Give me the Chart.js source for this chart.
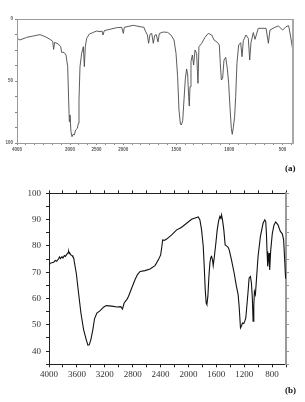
<!DOCTYPE html>
<html>
<head>
<meta charset="utf-8">
<script src="https://cdn.jsdelivr.net/npm/chart.js@4.4.1/dist/chart.umd.min.js"></script>
<style>
  html,body{margin:0;padding:0;background:#fff;}
  body{width:305px;height:402px;position:relative;overflow:hidden;}
  #ca{position:absolute;left:0;top:0;}
  #cb{position:absolute;left:0;top:160px;}
  .lab{position:absolute;font-family:"Liberation Serif",serif;font-weight:bold;font-size:9px;color:#111;}
</style>
</head>
<body>
<canvas id="ca" width="305" height="160"></canvas>
<canvas id="cb" width="305" height="242"></canvas>
<div class="lab" style="left:285px;top:163px;">(a)</div>
<div class="lab" style="left:285px;top:385px;">(b)</div>
<script>
// ---------- Chart (a) data ----------
const wnA = [4000,3943,3818,3692,3567,3472,3378,3328,3310,3291,3221,3177,3159,3115,3077,3045,3027,3014,3002,2983,2964,2945,2920,2895,2863,2844,2832,2813,2782,2750,2731,2713,2687,2637,2562,2499,2436,2399,2380,2355,2248,2122,2028,1998,1989,1904,1841,1804,1788,1772,1760,1747,1731,1716,1703,1688,1672,1659,1622,1581,1550,1521,1502,1487,1474,1461,1452,1439,1427,1414,1402,1392,1383,1377,1370,1361,1348,1336,1323,1308,1295,1286,1260,1229,1198,1166,1144,1113,1094,1085,1075,1063,1050,1034,1019,1006,994,981,972,962,950,940,928,912,893,880,868,843,821,808,796,774,758,727,654,632,617,570,538,497,466,441,425,403];
const absA = [15.6,16.9,14.8,13.7,12.6,14.2,16.4,18,24.5,18.8,20.2,22.3,26.9,26.9,29,38.4,65.3,82.8,77.4,90.9,94.9,93,93.5,89.5,88.2,84.1,65.3,38.4,27.7,22.3,38.4,22.3,15.6,12.1,10.8,9.7,10.2,9.7,12.9,9.4,8.3,7,6.7,11.6,6.7,5.1,6.2,6.7,10.2,12.9,19.6,12.4,11.6,19.6,13.2,12.6,18.5,11.6,10.5,10.8,12.9,16.9,27.7,46.5,73.4,84.7,85.5,82,65.3,47.8,40.3,45.2,62.6,70.2,54.6,34.4,29,37.1,25,27.7,51.9,22.3,19.6,14.8,11.6,12.9,16.9,18.8,21,35.8,49.2,47.8,33.1,30.9,39.8,51.9,70.7,88.2,93,87.4,78.8,62.6,35.8,21,19.1,30.4,17.5,12.9,15.6,33.1,19.1,11,16.4,7.5,7.5,19.6,8.9,6.7,5.6,8.9,6.2,5.4,12.9,24.5];
const xLabelsA = [4000,3000,2500,2000,1500,1000,500];
const yLabelsA = [0,50,100];

// ---------- Chart (b) data ----------
const wnB = [4000,3990,3960,3933,3910,3890,3862,3850,3835,3814,3800,3780,3766,3742,3725,3719,3710,3700,3685,3670,3657,3645,3638,3609,3576,3542,3504,3466,3442,3423,3399,3371,3347,3313,3266,3218,3180,3099,3027,2970,2946,2922,2884,2860,2813,2765,2731,2693,2622,2550,2479,2431,2398,2383,2369,2345,2312,2240,2169,2121,2083,2026,1954,1883,1859,1835,1811,1787,1773,1759,1745,1735,1721,1706,1692,1678,1668,1654,1644,1630,1606,1587,1568,1549,1535,1525,1511,1492,1473,1454,1430,1415,1382,1344,1311,1287,1272,1253,1239,1225,1206,1191,1177,1158,1144,1129,1110,1096,1082,1072,1062,1053,1039,1024,1001,967,929,905,891,881,872,862,853,843,834,819,796,772,748,715,681,653,634,619,610,604];
const trB = [73.1,73.3,73.6,73.8,74.5,74.2,75.1,75.8,75.2,75.9,75.4,76.3,76.0,76.9,77.5,77.9,77.0,77.2,76.5,76.4,75.8,75.4,74.1,69.7,62.1,54.5,48.2,44.4,42.3,42.4,44.4,48.2,52.3,54.5,55.4,56.7,57.3,57.1,56.8,56.9,56.0,58.3,59.6,60.8,64.0,67.2,69.1,70.3,70.6,71.2,72.5,74.7,76.6,79.4,82.3,82.1,82.6,84.2,86.1,86.7,87.4,88.6,90.1,90.8,91.0,89.9,86.1,79.8,72.2,63.4,58.3,57.7,60.8,68.4,73.5,75.7,76.0,74.7,72.5,75.4,81.1,86.1,89.3,91.2,90.5,91.8,89.9,86.1,80.4,80.0,79.5,78.5,74.7,69.7,64.6,61.5,57.0,48.8,49.5,50.7,50.5,51.4,52.6,58.3,62.7,67.8,68.4,65.9,59.6,51.4,57.0,62.7,61.5,67.2,76.0,83.6,88.6,89.9,89.3,84.8,77.9,72.2,74.7,77.3,70.9,78.5,84.8,88.0,89.1,88.0,85.5,84.6,82.3,74.7,69.7,67.5];
const xLabelsB = [4000,3600,3200,2800,2400,2000,1600,1200,800];
const yLabelsB = [40,50,60,70,80,90,100];

// ---------- chart (a): x axis with 2x expansion below 2000 cm-1 ----------
function posA(w){ return w >= 2000 ? 4000 - w : 2000 + (2000 - w) * 2; }
const labelPosA = xLabelsA.map(posA);

const framePlugin = {
  id: 'frameA',
  afterDatasetsDraw(chart){
    const a = chart.chartArea, ctx = chart.ctx;
    ctx.save();
    ctx.strokeStyle = '#9a9a9a';
    ctx.lineWidth = 1;
    ctx.beginPath();
    ctx.moveTo(a.left + 0.5, a.top + 0.5);
    ctx.lineTo(a.right, a.top + 0.5);
    ctx.moveTo(a.left + 0.5, a.top);
    ctx.lineTo(a.left + 0.5, a.bottom + 0.5);
    ctx.lineTo(a.right, a.bottom + 0.5);
    ctx.stroke();
    ctx.lineWidth = 2;
    ctx.strokeStyle = '#a8a8a8';
    ctx.beginPath();
    ctx.moveTo(a.right, a.top);
    ctx.lineTo(a.right, a.bottom + 1);
    ctx.stroke();
    ctx.restore();
  }
};

const smallFont = {family: '"Liberation Sans", Arial, sans-serif', size: 4.5, weight: 'bold'};

new Chart(document.getElementById('ca'), {
  type: 'line',
  data: {
    datasets: [{
      data: wnA.map((w, i) => ({x: posA(w), y: absA[i]})),
      borderColor: '#4a4a4a',
      borderWidth: 0.9,
      pointRadius: 0,
      tension: 0,
      fill: false
    }]
  },
  options: {
    responsive: false,
    animation: false,
    events: [],
    layout: {padding: {left: 0, right: 12, top: 19, bottom: 0}},
    plugins: {legend: {display: false}, tooltip: {enabled: false}},
    scales: {
      x: {
        type: 'linear', min: 0, max: 5200,
        afterFit(s){ s.height = 17; },
        afterBuildTicks(s){
          const t = [];
          for (let i = 0; i * 500 / 3 <= 5200; i++) t.push({value: i * 500 / 3});
          s.ticks = t;
        },
        ticks: {
          autoSkip: false, maxRotation: 0, padding: 2, color: '#555', font: smallFont,
          callback(v){
            const k = labelPosA.findIndex(p => Math.abs(p - v) < 1);
            return k >= 0 ? String(xLabelsA[k]) : '';
          }
        },
        grid: {drawOnChartArea: false, drawTicks: true, tickLength: 2, color: '#888'},
        border: {display: false}
      },
      y: {
        type: 'linear', min: 0, max: 100, reverse: true,
        afterFit(s){ s.width = 17; },
        afterBuildTicks(s){
          const t = [];
          for (let i = 0; i <= 8; i++) t.push({value: i * 12.5});
          s.ticks = t;
        },
        ticks: {
          autoSkip: false, padding: 2, color: '#555', font: smallFont,
          callback(v){ return yLabelsA.includes(v) ? String(v) : ''; }
        },
        grid: {drawOnChartArea: false, drawTicks: true, tickLength: 2, color: '#888'},
        border: {display: false}
      }
    }
  },
  plugins: [framePlugin]
});

// ---------- chart (b) ----------
const serifFont = {family: '"Liberation Serif", "Times New Roman", serif', size: 9};

new Chart(document.getElementById('cb'), {
  type: 'line',
  data: {
    datasets: [{
      data: wnB.map((w, i) => ({x: w, y: trB[i]})),
      borderColor: '#111',
      borderWidth: 1.1,
      pointRadius: 0,
      tension: 0,
      fill: false
    }]
  },
  options: {
    responsive: false,
    animation: false,
    events: [],
    layout: {padding: {left: 0, right: 0, top: 29.3, bottom: 15.7}},
    plugins: {legend: {display: false}, tooltip: {enabled: false}},
    scales: {
      x: {
        type: 'linear', position: 'bottom', reverse: true, min: 600, max: 4000,
        afterFit(s){ s.height = 22; },
        ticks: {
          stepSize: 200, autoSkip: false, maxRotation: 0, padding: 2, color: '#333', font: serifFont,
          callback(v){ return xLabelsB.includes(v) ? String(v) : ''; }
        },
        grid: {drawOnChartArea: false, drawTicks: true, tickLength: 3, color: '#222'},
        border: {display: true, color: '#222', width: 1}
      },
      x2: {
        type: 'linear', position: 'top', reverse: true, min: 600, max: 4000,
        afterFit(s){ s.height = 4; },
        ticks: {stepSize: 200, autoSkip: false, maxRotation: 0, padding: 0, font: {size: 1}, callback(){ return ''; }},
        grid: {drawOnChartArea: false, drawTicks: true, tickLength: 3, color: '#222'},
        border: {display: true, color: '#222', width: 1}
      },
      y: {
        type: 'linear', position: 'left', min: 35, max: 100,
        afterFit(s){ s.width = 49; },
        ticks: {
          stepSize: 5, autoSkip: false, padding: 5, color: '#333', font: serifFont,
          callback(v){ return yLabelsB.includes(v) ? String(v) : ''; }
        },
        grid: {drawOnChartArea: false, drawTicks: true, tickLength: 3, color: '#222'},
        border: {display: true, color: '#222', width: 1}
      },
      y2: {
        type: 'linear', position: 'right', min: 35, max: 100,
        afterFit(s){ s.width = 19; },
        ticks: {stepSize: 5, autoSkip: false, padding: 0, font: {size: 1}, callback(){ return ''; }},
        grid: {drawOnChartArea: false, drawTicks: true, tickLength: 3, color: '#999'},
        border: {display: true, color: '#9a9a9a', width: 2}
      }
    }
  }
});
</script>
</body>
</html>
